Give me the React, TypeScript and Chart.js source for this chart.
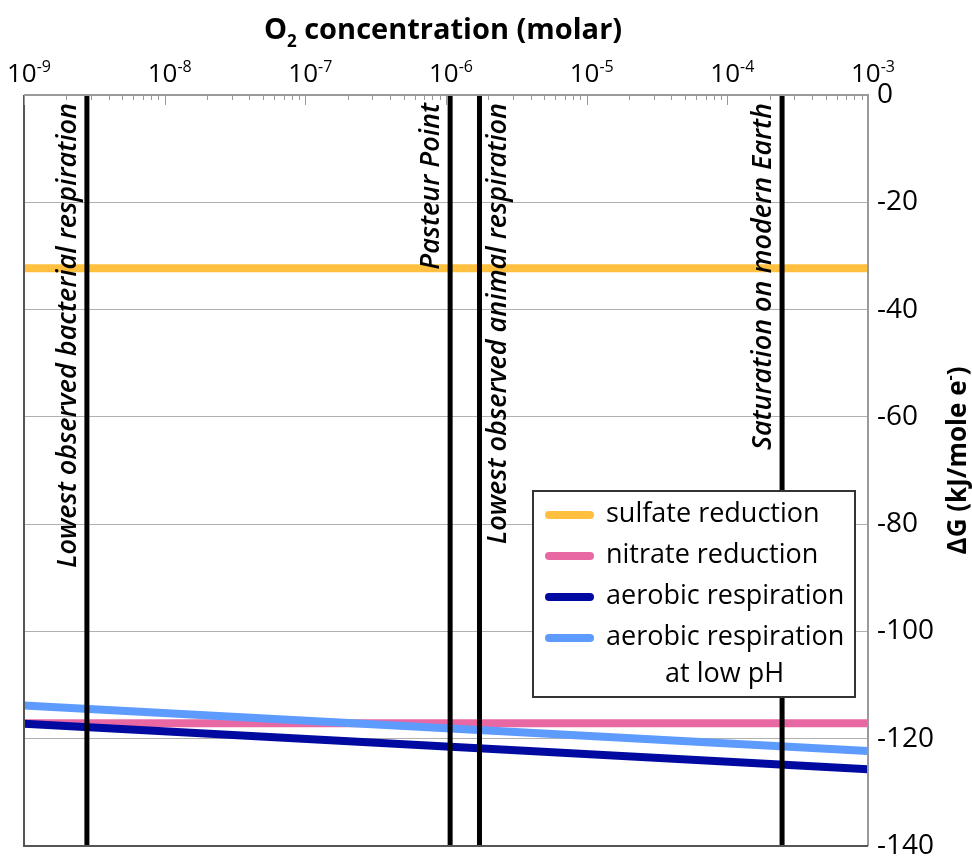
import { useEffect, useRef } from 'react';
import { Chart, registerables } from 'chart.js';

Chart.register(...registerables);

const FONT = '"Open Sans", "DejaVu Sans", sans-serif';

// O2 concentration range (molar) and decade exponents for top axis labels
const xMin = 1e-9;
const xMax = 1e-3;
const decadeExponents = [-9, -8, -7, -6, -5, -4, -3];

// ΔG axis (kJ/mole e-)
const yMin = -140;
const yMax = 0;
const yStep = 20;

// Series: values at the two ends of the O2 range
const seriesX = [1e-9, 1e-3];
const sulfateY = [-32.3, -32.3];
const nitrateY = [-117.1, -117.1];
const aerobicY = [-117.2, -125.7];
const aerobicLowPhY = [-113.8, -122.3];

const seriesNames = ['sulfate reduction', 'nitrate reduction', 'aerobic respiration', 'aerobic respiration'];
const seriesNames2 = ['', '', '', 'at low pH'];
const seriesColors = ['#FFC040', '#E868A4', '#000AA0', '#5E9BFF'];

// Vertical reference lines (O2 molar)
const markerX = [2.8e-9, 1.07e-6, 1.73e-6, 2.45e-4];
const markerLabels = [
  'Lowest observed bacterial respiration',
  'Pasteur Point',
  'Lowest observed animal respiration',
  'Saturation on modern Earth',
];
const markerSide = ['left', 'left', 'right', 'left'];

const decor = {
  id: 'decor',
  afterDraw(chart: any) {
    const { ctx, chartArea, scales } = chart;
    const { left, right, top, bottom } = chartArea;
    const xs = scales.x;
    ctx.save();

    // frame
    ctx.lineWidth = 2;
    ctx.strokeStyle = '#9a9a9a';
    ctx.beginPath();
    ctx.moveTo(left, top);
    ctx.lineTo(right, top);
    ctx.lineTo(right, bottom);
    ctx.stroke();
    ctx.strokeStyle = '#555';
    ctx.beginPath();
    ctx.moveTo(left, top);
    ctx.lineTo(left, bottom);
    ctx.lineTo(right, bottom);
    ctx.stroke();

    // top axis tick marks
    ctx.strokeStyle = '#999';
    ctx.lineWidth = 1;
    for (let e = -9; e <= -3; e++) {
      for (let m = 1; m <= 9; m++) {
        const v = m * Math.pow(10, e);
        if (v > xMax * 1.0001) break;
        const px = Math.round(xs.getPixelForValue(v)) + 0.5;
        const len = m === 1 ? 10 : 5;
        ctx.beginPath();
        ctx.moveTo(px, top);
        ctx.lineTo(px, top + len);
        ctx.stroke();
      }
    }

    // top axis labels 10^n
    ctx.fillStyle = '#000';
    ctx.textBaseline = 'alphabetic';
    ctx.textAlign = 'left';
    for (const e of decadeExponents) {
      const px = xs.getPixelForValue(Math.pow(10, e));
      ctx.font = `26px ${FONT}`;
      const w1 = ctx.measureText('10').width;
      ctx.font = `16px ${FONT}`;
      const exp = '-' + Math.abs(e);
      const w2 = ctx.measureText(exp).width;
      const x0 = px + 5 - (w1 + w2) / 2;
      ctx.font = `26px ${FONT}`;
      ctx.fillText('10', x0, 82);
      ctx.font = `16px ${FONT}`;
      ctx.fillText(exp, x0 + w1, 72);
    }

    // top title
    {
      const cx = (left + right) / 2 - 3;
      ctx.font = `bold 29px ${FONT}`;
      const a = 'O';
      const c = ' concentration (molar)';
      const wa = ctx.measureText(a).width;
      const wc = ctx.measureText(c).width;
      ctx.font = `bold 17px ${FONT}`;
      const wb = ctx.measureText('2').width;
      const x0 = cx - (wa + wb + wc) / 2;
      ctx.font = `bold 29px ${FONT}`;
      ctx.fillText(a, x0, 39);
      ctx.fillText(c, x0 + wa + wb, 39);
      ctx.font = `bold 17px ${FONT}`;
      ctx.fillText('2', x0 + wa, 47);
    }

    // right title (rotated)
    {
      const cy = (top + bottom) / 2 - 10;
      ctx.save();
      ctx.translate(966, cy);
      ctx.rotate(-Math.PI / 2);
      ctx.font = `bold 26px ${FONT}`;
      const t1 = 'ΔG (kJ/mole e';
      const t3 = ')';
      const w1 = ctx.measureText(t1).width;
      const w3 = ctx.measureText(t3).width;
      ctx.font = `bold 16px ${FONT}`;
      const w2 = ctx.measureText('-').width;
      const x0 = -(w1 + w2 + w3) / 2;
      ctx.font = `bold 26px ${FONT}`;
      ctx.fillText(t1, x0, 0);
      ctx.fillText(t3, x0 + w1 + w2, 0);
      ctx.font = `bold 16px ${FONT}`;
      ctx.fillText('-', x0 + w1, -11);
      ctx.restore();
    }

    // marker labels (rotated)
    ctx.font = `italic 600 27px ${FONT}`;
    markerX.forEach((v, i) => {
      const px = xs.getPixelForValue(v);
      const bx = markerSide[i] === 'left' ? px - 11 : px + 27;
      ctx.save();
      ctx.translate(bx, top + 8);
      ctx.rotate(-Math.PI / 2);
      ctx.textAlign = 'right';
      ctx.fillText(markerLabels[i], 0, 0);
      ctx.restore();
    });

    // legend
    const lx = 533, ly = 491, lw = 322, lh = 206;
    ctx.fillStyle = '#fff';
    ctx.fillRect(lx, ly, lw, lh);
    ctx.strokeStyle = '#333';
    ctx.lineWidth = 2;
    ctx.strokeRect(lx, ly, lw, lh);
    const rows = [515, 556, 597, 638];
    ctx.font = `27px ${FONT}`;
    ctx.textAlign = 'left';
    ctx.textBaseline = 'middle';
    seriesNames.forEach((name, i) => {
      const ry = rows[i];
      ctx.strokeStyle = seriesColors[i];
      ctx.lineWidth = 8;
      ctx.lineCap = 'round';
      ctx.beginPath();
      ctx.moveTo(549, ry);
      ctx.lineTo(590, ry);
      ctx.stroke();
      ctx.fillStyle = '#000';
      ctx.fillText(name, 606, ry - 1);
      if (seriesNames2[i]) ctx.fillText(seriesNames2[i], 665, ry + 36);
    });

    ctx.restore();
  },
};

export default function App() {
  const ref = useRef<HTMLCanvasElement | null>(null);
  useEffect(() => {
    if (!ref.current) return;
    const mk = (ys: number[]) => seriesX.map((x, i) => ({ x, y: ys[i] }));
    const seriesData = [sulfateY, nitrateY, aerobicY, aerobicLowPhY];
    const seriesOrder = [3, 4, 2, 1];
    const datasets: any[] = seriesData.map((ys, i) => ({
      label: seriesNames[i] + (seriesNames2[i] ? ' ' + seriesNames2[i] : ''),
      data: mk(ys),
      borderColor: seriesColors[i],
      borderWidth: 8,
      pointRadius: 0,
      borderCapStyle: 'butt',
      order: seriesOrder[i],
    }));
    markerX.forEach((v, i) => {
      datasets.push({
        label: markerLabels[i],
        data: [
          { x: v, y: yMax },
          { x: v, y: yMin },
        ],
        borderColor: '#000',
        borderWidth: 5,
        pointRadius: 0,
        order: 0,
      });
    });
    const chart = new Chart(ref.current, {
      type: 'line',
      data: { datasets },
      options: {
        animation: false,
        responsive: false,
        devicePixelRatio: 1,
        layout: { padding: { top: 95, left: 24, bottom: 11, right: 0 } },
        plugins: { legend: { display: false }, tooltip: { enabled: false } },
        events: [],
        scales: {
          x: {
            type: 'logarithmic',
            position: 'top',
            min: xMin,
            max: xMax,
            display: false,
          },
          y: {
            type: 'linear',
            position: 'right',
            min: yMin,
            max: yMax,
            ticks: {
              stepSize: yStep,
              color: '#000',
              padding: 9,
              font: { family: FONT, size: 28 },
            },
            grid: { color: '#b0b0b0', lineWidth: 1, drawTicks: false },
            border: { display: false },
            afterFit: (scale: any) => {
              scale.width = 104;
              scale.paddingTop = 0;
              scale.paddingBottom = 0;
            },
          },
        },
      },
      plugins: [decor],
    });
    return () => chart.destroy();
  }, []);
  return (
    <div style={{ position: 'absolute', left: 0, top: 0, width: 972, height: 857, background: '#fff' }}>
      <canvas ref={ref} width={972} height={857} style={{ display: 'block' }} />
    </div>
  );
}
